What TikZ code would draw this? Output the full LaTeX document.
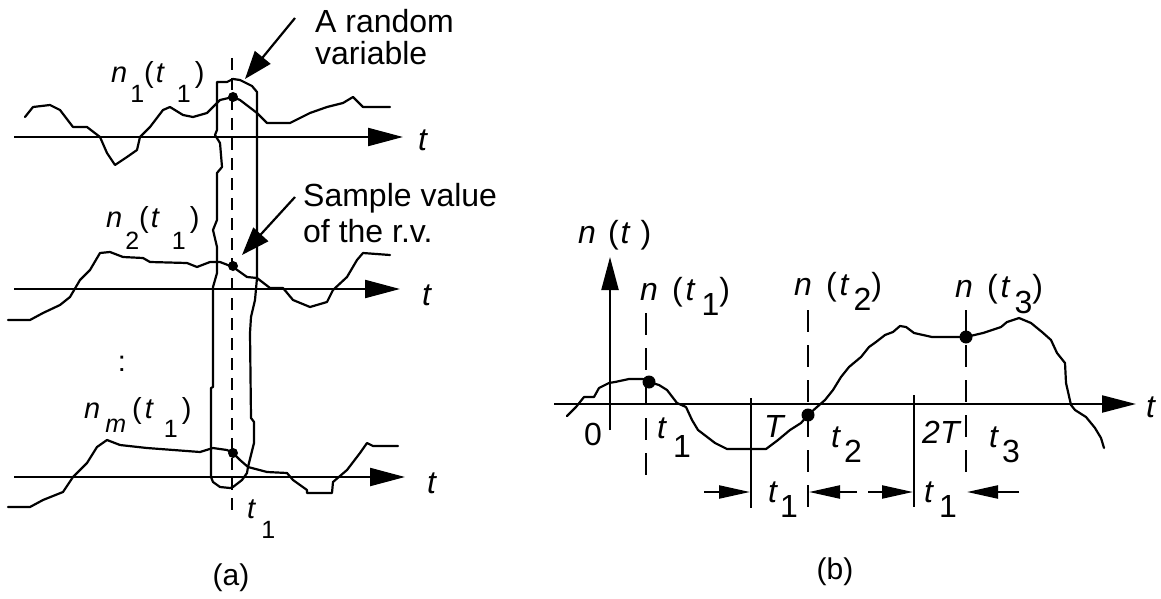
\documentclass[tikz,border=0pt]{standalone}
\usepackage{fontspec}
\setmainfont{Liberation Sans}
\usetikzlibrary{arrows.meta}
\newcommand{\lowr}[2]{\raisebox{-#1pt}{\fontsize{25}{30}\selectfont #2}}
\newcommand{\lowb}[2]{\raisebox{-#1pt}{#2}}
\begin{document}
\begin{tikzpicture}[x=1pt,y=-1pt,
  wave/.style={line width=2.2pt, line join=round, line cap=round},
  axisA/.style={line width=2.2pt, -{Triangle[length=35pt,width=18pt]}},
  axisB/.style={line width=2.2pt, -{Triangle[length=34pt,width=17pt]}},
  axisV/.style={line width=2.2pt, -{Triangle[length=33pt,width=17pt]}},
  dimarrow/.style={line width=2.2pt, -{Triangle[length=31pt,width=13pt]}},
  pointer/.style={line width=2.2pt, -{Triangle[length=28pt,width=20pt]}},
  dashA/.style={line width=2pt, dash pattern=on 12pt off 8pt},
  dashB/.style={line width=2pt, dash pattern=on 22pt off 13pt},
  tick/.style={line width=2pt},
  dot/.style={circle, fill, inner sep=0pt, minimum size=10pt},
  dotB/.style={circle, fill, inner sep=0pt, minimum size=13pt},
  lblA/.style={inner sep=0pt, anchor=base west, font=\fontsize{29}{34}\selectfont},
  lblB/.style={inner sep=0pt, anchor=base west, font=\fontsize{32}{38}\selectfont},
  note/.style={inner sep=0pt, anchor=base west, font=\fontsize{32}{38}\selectfont},
  caption/.style={inner sep=0pt, font=\fontsize{30}{36}\selectfont}
]
\useasboundingbox (0,0) rectangle (1161,599);

% ---------------- (a) ----------------
\coordinate (a1s) at (14,137); \coordinate (a1e) at (403,137);
\coordinate (a2s) at (14,289); \coordinate (a2e) at (400,289);
\coordinate (a3s) at (14,477); \coordinate (a3e) at (405,477);
\draw[axisA] (a1s) -- (a1e);
\draw[axisA] (a2s) -- (a2e);
\draw[axisA] (a3s) -- (a3e);

\draw[wave] (25,117) -- (33,107) -- (50,105) -- (60,110) -- (73,127) -- (87,127) -- (100,137) -- (107,153) -- (115,165) -- (127,157) -- (137,150) -- (140,137) -- (150,127) -- (163,110) -- (170,107) -- (183,115) -- (193,117) -- (207,113) -- (220,100) -- (233,97) -- (240,100) -- (257,113) -- (267,123) -- (290,123) -- (310,113) -- (327,107) -- (343,103) -- (353,97) -- (363,107) -- (390,107);
\draw[wave] (8,320) -- (30,320) -- (43,313) -- (60,305) -- (70,297) -- (80,280) -- (90,270) -- (100,253) -- (110,252) -- (123,257) -- (143,258) -- (150,262) -- (187,263) -- (197,267) -- (210,262) -- (220,262) -- (233,267) -- (247,277) -- (257,278) -- (270,288) -- (283,288) -- (293,300) -- (310,307) -- (327,302) -- (333,290) -- (347,277) -- (357,260) -- (363,253) -- (390,255);
\draw[wave] (8,507) -- (30,507) -- (43,500) -- (63,492) -- (73,477) -- (87,463) -- (97,447) -- (107,440) -- (120,445) -- (147,448) -- (200,452) -- (213,448) -- (227,450) -- (233,453) -- (240,460) -- (248,467) -- (267,472) -- (287,473) -- (293,480) -- (307,490) -- (307,493) -- (332,493) -- (333,482) -- (347,470) -- (360,453) -- (367,443) -- (373,446) -- (398,446);

\draw[wave] (217,82) -- (227,82) -- (233,79) -- (240,80) -- (246,83) -- (252,86) -- (257,92) -- (257,270) -- (257,278) -- (255,300) -- (251,317) -- (250,333) -- (251,418) -- (254,422) -- (254,443) -- (248,467) -- (247,473) -- (242,480) -- (233,487) -- (230,488) -- (220,487) -- (213,482) -- (211,477) -- (211,388) -- (213,387) -- (213,287) -- (217,273) -- (217,247) -- (213,230) -- (217,220) -- (217,173) -- (222,167) -- (220,143) -- (215,135) -- (217,130) -- cycle;

\coordinate (da1) at (232,58); \coordinate (da2) at (232,512);
\draw[dashA] (da1) -- (da2);

\node[dot] (p1) at (233,97) {};
\node[dot] (p2) at (233,266) {};
\node[dot] (pm) at (233,453) {};

\coordinate (rvtail) at (295,18); \coordinate (rvtip) at (245,79);
\coordinate (svtail) at (295,197); \coordinate (svtip) at (242,255);
\draw[pointer] (rvtail) -- (rvtip);
\draw[pointer] (svtail) -- (svtip);

\node[note] (rv1) at (315,33) {A random};
\node[note] (rv2) at (315,65) {variable};
\node[note] (sv1) at (303,206) {Sample value};
\node[note] (sv2) at (303,242) {of the r.v.};

\node[lblA] (n1) at (111,83) {\textit{n}\hspace{3pt}\lowr{20}{1}(\hspace{2pt}\textit{t}\hspace{12pt}\lowr{20}{1}\hspace{4pt})};
\node[lblA] (n2) at (106,227) {\textit{n}\hspace{3pt}\lowr{22}{2}(\hspace{2pt}\textit{t}\hspace{12pt}\lowr{22}{1}\hspace{4pt})};
\node[lblA] (nm) at (84,418) {\textit{n}\hspace{5pt}\lowr{14}{\textit{m}}\hspace{6pt}(\hspace{3pt}\textit{t}\hspace{10pt}\lowr{19}{1}\hspace{4pt})};
\node[lblA, anchor=center] (dots) at (122,364) {:};
\node[lblA] (t1a) at (247,518) {\textit{t}\hspace{5pt}\lowr{20}{1}};
\node[lblB] (ta1) at (418,150) {\textit{t}};
\node[lblB] (ta2) at (422,305) {\textit{t}};
\node[lblB] (ta3) at (427,493) {\textit{t}};
\node[caption] (capa) at (231,578) {(a)};

% ---------------- (b) ----------------
\coordinate (bxs) at (554,404); \coordinate (bxe) at (1136,404);
\coordinate (bys) at (610,430); \coordinate (bye) at (610,257);
\draw[axisB] (bxs) -- (bxe);
\draw[axisV] (bys) -- (bye);

\draw[wave] (567,416) -- (576,407) -- (584,397) -- (594,397) -- (599,388) -- (609,383) -- (615,382) -- (629,379) -- (643,379) -- (649,382) -- (659,385) -- (667,390) -- (677,403) -- (686,407) -- (692,420) -- (698,430) -- (715,443) -- (727,449) -- (766,449) -- (778,440) -- (790,430) -- (801,423) -- (808,415) -- (817,407) -- (825,400) -- (833,390) -- (841,377) -- (849,367) -- (861,357) -- (869,347) -- (876,342) -- (885,335) -- (893,332) -- (900,326) -- (906,327) -- (914,333) -- (932,337) -- (966,337) -- (983,333) -- (1001,327) -- (1007,322) -- (1019,318) -- (1031,323) -- (1042,332) -- (1051,340) -- (1057,353) -- (1065,363) -- (1066,383) -- (1071,405) -- (1075,410) -- (1086,417) -- (1095,428) -- (1101,438) -- (1104,448);

\coordinate (s1a) at (646,313); \coordinate (s1b) at (646,480);
\coordinate (s2a) at (808,310); \coordinate (s2b) at (808,508);
\coordinate (s3a) at (966,310); \coordinate (s3b) at (966,477);
\draw[dashB] (s1a) -- (s1b);
\draw[dashB] (s2a) -- (s2b);
\draw[dashB] (s3a) -- (s3b);

\coordinate (Ta) at (751,398); \coordinate (Tb) at (751,508);
\coordinate (TTa) at (914,395); \coordinate (TTb) at (914,507);
\draw[tick] (Ta) -- (Tb);
\draw[tick] (TTa) -- (TTb);

\node[dotB] (q1) at (649,382) {};
\node[dotB] (q2) at (808,415) {};
\node[dotB] (q3) at (966,337) {};

\coordinate (d1t) at (704,492); \coordinate (d1h) at (750,492);
\coordinate (d2t) at (857,492); \coordinate (d2h) at (809,492);
\coordinate (d3t) at (868,492); \coordinate (d3h) at (913,492);
\coordinate (d4t) at (1019,492); \coordinate (d4h) at (967,492);
\draw[dimarrow] (d1t) -- (d1h);
\draw[dimarrow] (d2t) -- (d2h);
\draw[dimarrow] (d3t) -- (d3h);
\draw[dimarrow] (d4t) -- (d4h);

\node[lblB] (nt) at (578,243) {\textit{n}\hspace{12pt}(\hspace{2pt}\textit{t}\hspace{10pt})};
\node[lblB] (nt1) at (640,300) {\textit{n}\hspace{14pt}(\hspace{3pt}\textit{t}\hspace{6pt}\lowb{15}{1})};
\node[lblB] (nt2) at (794,295) {\textit{n}\hspace{14pt}(\hspace{3pt}\textit{t}\hspace{4pt}\lowb{15}{2})};
\node[lblB] (nt3) at (955,297) {\textit{n}\hspace{14pt}(\hspace{3pt}\textit{t}\hspace{4pt}\lowb{16}{3})};
\node[lblB] (zero) at (584,445) {0};
\node[lblB] (tb1) at (657,438) {\textit{t}\hspace{6pt}\lowb{19}{1}};
\node[lblB] (lT) at (764,437) {\textit{T}};
\node[lblB] (tb2) at (831,447) {\textit{t}\hspace{3pt}\lowb{15}{2}};
\node[lblB] (l2T) at (922,443) {\textit{2T}};
\node[lblB] (tb3) at (989,447) {\textit{t}\hspace{3pt}\lowb{15}{3}};
\node[lblB] (dt1) at (768,502) {\textit{t}\hspace{2pt}\lowb{15}{1}};
\node[lblB] (dt2) at (924,502) {\textit{t}\hspace{5pt}\lowb{15}{1}};
\node[lblB] (tbx) at (1146,417) {\textit{t}};
\node[caption] (capb) at (835,572) {(b)};
\end{tikzpicture}
\end{document}
